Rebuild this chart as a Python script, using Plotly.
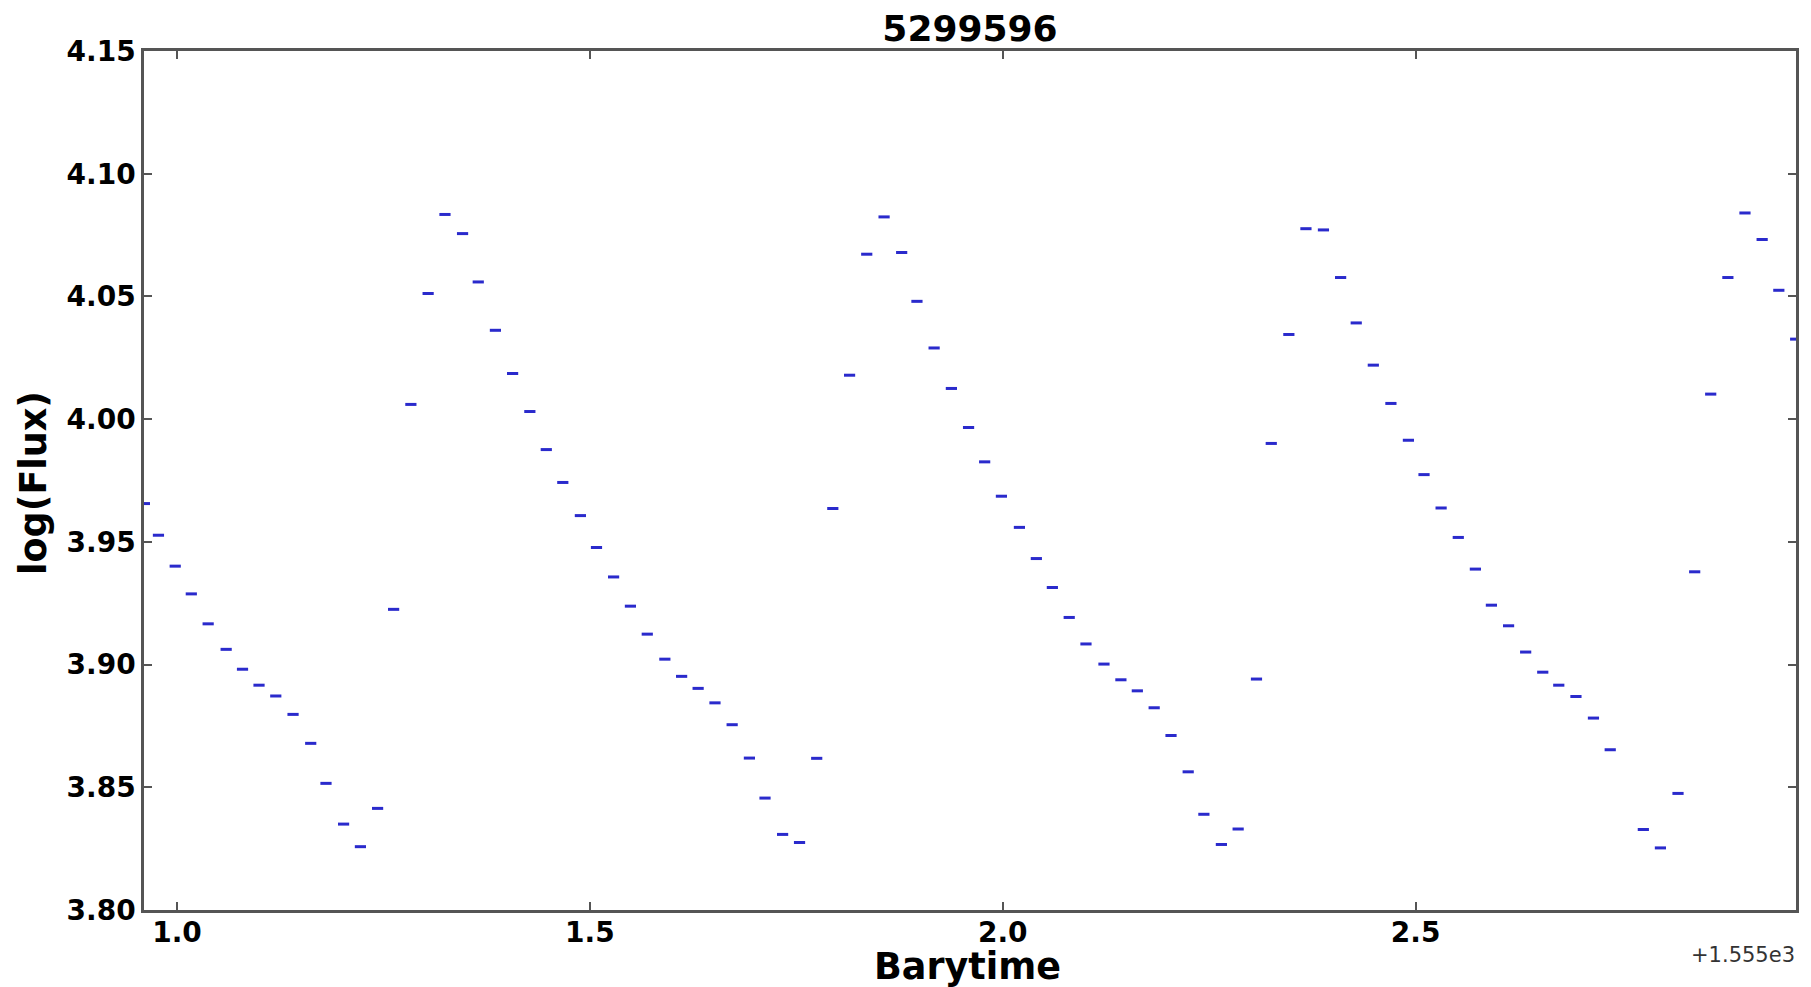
import plotly.graph_objects as go

TITLE = "5299596"
X_LABEL = "Barytime"
Y_LABEL = "log(Flux)"
OFFSET_TEXT = "+1.555e3"
BARYTIME_OFFSET = 1555.0  # shown as "+1.555e3" offset text

# Barytime minus offset (days)
barytime = [0.9605, 0.9775, 0.9978, 1.0173, 1.0377, 1.0595, 1.0793, 1.0993, 1.1196, 1.1405,
            1.1619, 1.1804, 1.2017, 1.2221, 1.2429, 1.2623, 1.2832, 1.3041, 1.3245, 1.3458,
            1.3648, 1.3856, 1.4064, 1.4273, 1.4472, 1.4672, 1.4885, 1.5080, 1.5287, 1.5491,
            1.5695, 1.5908, 1.6111, 1.6311, 1.6515, 1.6723, 1.6932, 1.7121, 1.7334, 1.7539,
            1.7747, 1.7942, 1.8145, 1.8353, 1.8563, 1.8776, 1.8961, 1.9169, 1.9378, 1.9586,
            1.9781, 1.9984, 2.0202, 2.0407, 2.0601, 2.0805, 2.1008, 2.1226, 2.1431, 2.1630,
            2.1834, 2.2038, 2.2246, 2.2436, 2.2648, 2.2851, 2.3073, 2.3252, 2.3465, 2.3672,
            2.3884, 2.4092, 2.4281, 2.4488, 2.4701, 2.4913, 2.5102, 2.5309, 2.5517, 2.5724,
            2.5918, 2.6126, 2.6333, 2.6540, 2.6734, 2.6942, 2.7154, 2.7357, 2.7758, 2.7965,
            2.8178, 2.8380, 2.8574, 2.8782, 2.8989, 2.9197, 2.9399, 2.9603]

log_flux = [3.9656, 3.9527, 3.9401, 3.9288, 3.9166, 3.9062, 3.8981, 3.8916, 3.8872, 3.8797,
            3.8679, 3.8516, 3.8350, 3.8258, 3.8414, 3.9225, 4.0060, 4.0512, 4.0834, 4.0756,
            4.0559, 4.0362, 4.0186, 4.0031, 3.9876, 3.9742, 3.9607, 3.9477, 3.9357, 3.9238,
            3.9124, 3.9022, 3.8952, 3.8903, 3.8844, 3.8755, 3.8619, 3.8456, 3.8308, 3.8275,
            3.8618, 3.9636, 4.0179, 4.0672, 4.0824, 4.0679, 4.0480, 4.0290, 4.0125, 3.9966,
            3.9826, 3.9686, 3.9559, 3.9432, 3.9314, 3.9192, 3.9084, 3.9002, 3.8938, 3.8893,
            3.8824, 3.8711, 3.8563, 3.8390, 3.8267, 3.8330, 3.8941, 3.9901, 4.0345, 4.0776,
            4.0771, 4.0577, 4.0392, 4.0220, 4.0064, 3.9914, 3.9774, 3.9638, 3.9518, 3.9389,
            3.9242, 3.9158, 3.9051, 3.8969, 3.8916, 3.8870, 3.8782, 3.8653, 3.8328, 3.8253,
            3.8475, 3.9378, 4.0102, 4.0577, 4.0840, 4.0732, 4.0525, 4.0326]

x_tick_vals = [1.0, 1.5, 2.0, 2.5]
x_tick_text = ["1.0", "1.5", "2.0", "2.5"]
y_tick_vals = [3.80, 3.85, 3.90, 3.95, 4.00, 4.05, 4.10, 4.15]
y_tick_text = ["3.80", "3.85", "3.90", "3.95", "4.00", "4.05", "4.10", "4.15"]
x_range = [0.9600, 2.9607]
y_range = [3.80, 4.15]

x_abs = [BARYTIME_OFFSET + t for t in barytime]

FONT = "DejaVu Sans, Bitstream Vera Sans, sans-serif"
AXIS_COLOR = "#555555"

W, H = 1811, 987
ML, MR, MT, MB = 144, 15, 51, 77
PW, PH = W - ML - MR, H - MT - MB

fig = go.Figure()
fig.add_trace(go.Scatter(
    x=x_abs, y=log_flux, mode="markers",
    marker=dict(symbol="line-ew", size=8, color="#2424cc",
                line=dict(width=3, color="#2a2acc")),
    cliponaxis=True, showlegend=False,
))

fig.update_layout(
    width=W, height=H,
    margin=dict(l=ML, r=MR, t=MT, b=MB, pad=0, autoexpand=False),
    paper_bgcolor="white", plot_bgcolor="white",
    title=dict(text=TITLE, x=0.5, xref="paper", y=1 - 28 / H, yref="container",
               yanchor="middle", xanchor="center",
               font=dict(family=FONT, size=36, color="black", weight="bold")),
    font=dict(family=FONT, color="black"),
)

fig.update_xaxes(
    range=[BARYTIME_OFFSET + v for v in x_range],
    tickmode="array",
    tickvals=[BARYTIME_OFFSET + v for v in x_tick_vals], ticktext=x_tick_text,
    tickfont=dict(family=FONT, size=28, color="black", weight="bold"),
    ticks="inside", ticklen=8, tickwidth=1.5, tickcolor=AXIS_COLOR,
    showline=True, linecolor=AXIS_COLOR, linewidth=2.5, mirror="ticks",
    showgrid=False, zeroline=False, ticklabelstandoff=-4, automargin=False,
)
fig.update_yaxes(
    range=y_range,
    tickmode="array", tickvals=y_tick_vals, ticktext=y_tick_text,
    tickfont=dict(family=FONT, size=28, color="black", weight="bold"),
    ticks="inside", ticklen=8, tickwidth=1.5, tickcolor=AXIS_COLOR,
    showline=True, linecolor=AXIS_COLOR, linewidth=2.5, mirror="ticks",
    showgrid=False, zeroline=False, ticklabelstandoff=0, automargin=False,
)

# Axis titles and offset text placed in pixel terms relative to the plot area
fig.add_annotation(
    text=X_LABEL, xref="paper", yref="paper",
    x=(967 - ML) / PW, y=(PH + MT - 966) / PH,
    xanchor="center", yanchor="middle", showarrow=False, borderpad=0,
    font=dict(family=FONT, size=36.5, color="black", weight="bold"),
)
fig.add_annotation(
    text=Y_LABEL, xref="paper", yref="paper",
    x=(33 - ML) / PW, y=(PH + MT - 483) / PH, textangle=-90,
    xanchor="center", yanchor="middle", showarrow=False, borderpad=0,
    font=dict(family=FONT, size=36.5, color="black", weight="bold"),
)
fig.add_annotation(
    text=OFFSET_TEXT, xref="paper", yref="paper", x=1.0, y=(PH + MT - 955) / PH,
    xanchor="right", yanchor="middle", showarrow=False, borderpad=0,
    font=dict(family=FONT, size=21, color="#333333"),
)

fig.write_html("out.html", config={"displayModeBar": False},
               post_script="document.body.style.margin='0';")
